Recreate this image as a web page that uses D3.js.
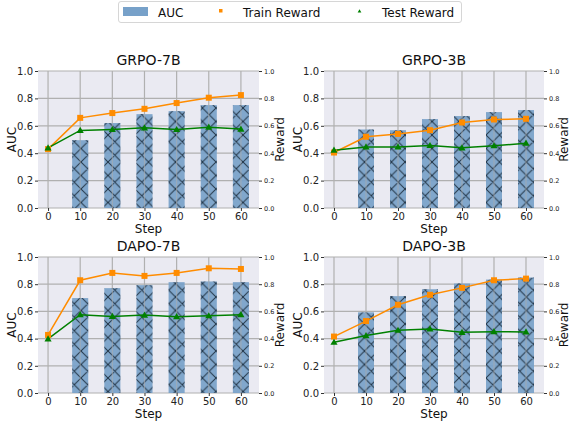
<!DOCTYPE html>
<html><head><meta charset="utf-8">
<script src="https://cdn.jsdelivr.net/npm/d3@7"></script>
<style>body{margin:0;background:#fff}svg{display:block;font-family:"DejaVu Sans",sans-serif}</style>
</head><body><svg id="c" width="571" height="423"></svg>
<script>
const steps = [0, 10, 20, 30, 40, 50, 60];
const barSteps = [10, 20, 30, 40, 50, 60];
const titles = ["GRPO-7B", "GRPO-3B", "DAPO-7B", "DAPO-3B"];
const aucGRPO7 = [0.495, 0.62, 0.685, 0.707, 0.751, 0.751];
const aucGRPO3 = [0.573, 0.568, 0.649, 0.671, 0.70, 0.715];
const aucDAPO7 = [0.698, 0.771, 0.793, 0.815, 0.82, 0.815];
const aucDAPO3 = [0.593, 0.712, 0.763, 0.805, 0.834, 0.849];
const trainGRPO7 = [0.43, 0.658, 0.693, 0.724, 0.766, 0.805, 0.824];
const trainGRPO3 = [0.405, 0.52, 0.541, 0.568, 0.624, 0.646, 0.651];
const trainDAPO7 = [0.427, 0.829, 0.883, 0.861, 0.883, 0.917, 0.912];
const trainDAPO3 = [0.415, 0.529, 0.649, 0.722, 0.773, 0.829, 0.841];
const testGRPO7 = [0.439, 0.566, 0.573, 0.585, 0.573, 0.59, 0.576];
const testGRPO3 = [0.422, 0.446, 0.446, 0.456, 0.439, 0.454, 0.473];
const testDAPO7 = [0.398, 0.576, 0.563, 0.573, 0.561, 0.568, 0.576];
const testDAPO3 = [0.373, 0.422, 0.461, 0.471, 0.446, 0.451, 0.449];
const yTicks = [0, 0.2, 0.4, 0.6, 0.8, 1.0];
const legendLabels = ["AUC", "Train Reward", "Test Reward"];

const panels = [
  {title: titles[0], auc: aucGRPO7, train: trainGRPO7, test: testGRPO7},
  {title: titles[1], auc: aucGRPO3, train: trainGRPO3, test: testGRPO3},
  {title: titles[2], auc: aucDAPO7, train: trainDAPO7, test: testDAPO7},
  {title: titles[3], auc: aucDAPO3, train: trainDAPO3, test: testDAPO3}
];
const boxes = [
  {x0: 38, x1: 259, y0: 71, y1: 208},
  {x0: 324, x1: 544, y0: 71, y1: 208},
  {x0: 38, x1: 259, y0: 257, y1: 393},
  {x0: 324, x1: 544, y0: 257, y1: 393}
];
const barColor = "#77a1c9";
const orange = "#ff8c00";
const green = "#008000";
const svg = d3.select("#c");

const defs = svg.append("defs");
const pat = defs.append("pattern").attr("id", "hx").attr("patternUnits", "userSpaceOnUse")
  .attr("width", 13.5).attr("height", 13.5);
pat.append("path").attr("d", "M0,0L13.5,13.5M13.5,0L0,13.5M-1,1L1,-1M12.5,14.5L14.5,12.5M-1,12.5L1,14.5M12.5,-1L14.5,1")
  .attr("stroke", "#10202e").attr("stroke-width", 1).attr("stroke-opacity", 0.85);

panels.forEach((p, i) => {
  const b = boxes[i];
  const x = d3.scaleLinear().domain([-3.125, 65.625]).range([b.x0, b.x1]);
  const y = d3.scaleLinear().domain([0, 1]).range([b.y1, b.y0]);
  const g = svg.append("g");
  g.append("rect").attr("x", b.x0).attr("y", b.y0).attr("width", b.x1 - b.x0).attr("height", b.y1 - b.y0).attr("fill", "#eaeaf2");
  // grid
  g.selectAll(".gx").data(steps).join("line").attr("x1", d => x(d)).attr("x2", d => x(d))
    .attr("y1", b.y0).attr("y2", b.y1).attr("stroke", "#b0b0b0").attr("stroke-width", 1.2);
  g.selectAll(".gy").data(yTicks).join("line").attr("y1", d => y(d)).attr("y2", d => y(d))
    .attr("x1", b.x0).attr("x2", b.x1).attr("stroke", "#b0b0b0").attr("stroke-width", 1.2);
  // bars
  const bw = x(5) - x(0);
  g.selectAll(".bar").data(barSteps).join("rect").attr("x", d => x(d) - bw / 2).attr("width", bw)
    .attr("y", (d, k) => y(p.auc[k])).attr("height", (d, k) => y(0) - y(p.auc[k]))
    .attr("fill", barColor).attr("fill-opacity", 0.92);
  g.selectAll(".bh").data(barSteps).join("rect").attr("x", d => x(d) - bw / 2).attr("width", bw)
    .attr("y", (d, k) => y(p.auc[k])).attr("height", (d, k) => y(0) - y(p.auc[k]))
    .attr("fill", "url(#hx)");
  // grid lines faintly over bars
  g.selectAll(".gx2").data(barSteps).join("line").attr("x1", d => x(d)).attr("x2", d => x(d))
    .attr("y1", (d, k) => y(p.auc[k])).attr("y2", b.y1).attr("stroke", "#b0b0b0").attr("stroke-width", 1.2).attr("stroke-opacity", 0.6);
  // axes
  const ax = g.append("g").attr("transform", `translate(0,${b.y1})`)
    .call(d3.axisBottom(x).tickValues(steps).tickFormat(d3.format("d")).tickSize(3).tickPadding(2));
  const ay = g.append("g").attr("transform", `translate(${b.x0},0)`)
    .call(d3.axisLeft(y).tickValues(yTicks).tickFormat(d3.format(".1f")).tickSize(3).tickPadding(2));
  const ar = g.append("g").attr("transform", `translate(${b.x1},0)`)
    .call(d3.axisRight(y).tickValues(yTicks).tickFormat(d3.format(".1f")).tickSize(3).tickPadding(2));
  [ax, ay, ar].forEach(a => { a.select(".domain").remove(); a.selectAll("line").attr("stroke", "#333"); });
  ax.selectAll("text").attr("font-size", 10).attr("fill", "#222").attr("font-family", "DejaVu Sans");
  ay.selectAll("text").attr("font-size", 10).attr("fill", "#222").attr("font-family", "DejaVu Sans");
  ar.selectAll("text").attr("font-size", 6.5).attr("fill", "#222").attr("font-family", "DejaVu Sans");
  // lines
  const line = d3.line().x((d, k) => x(steps[k])).y(d => y(d));
  g.append("path").datum(p.train).attr("d", line).attr("fill", "none").attr("stroke", orange).attr("stroke-width", 1.5);
  g.append("path").datum(p.test).attr("d", line).attr("fill", "none").attr("stroke", green).attr("stroke-width", 1.5);
  g.selectAll(".mt").data(p.train).join("rect").attr("x", (d, k) => x(steps[k]) - 3).attr("y", d => y(d) - 3)
    .attr("width", 6).attr("height", 6).attr("fill", orange);
  const tri = d3.symbol().type(d3.symbolTriangle).size(22);
  g.selectAll(".ms").data(p.test).join("path").attr("d", tri)
    .attr("transform", (d, k) => `translate(${x(steps[k])},${y(d) + 0.5})`).attr("fill", green);
  // labels
  const cx = (b.x0 + b.x1) / 2, cy = (b.y0 + b.y1) / 2;
  g.append("text").attr("x", cx).attr("y", b.y0 - 6).attr("text-anchor", "middle").attr("font-size", 14).attr("fill", "#111").text(p.title);
  g.append("text").attr("x", cx).attr("y", b.y1 + 25).attr("text-anchor", "middle").attr("font-size", 12).attr("fill", "#111").text("Step");
  g.append("text").attr("transform", `translate(${b.x0 - 22},${cy}) rotate(-90)`).attr("text-anchor", "middle").attr("font-size", 12).attr("fill", "#111").text("AUC");
  const rx = Math.min(b.x1 + 25, 567.5);
  g.append("text").attr("transform", `translate(${rx},${cy}) rotate(-90)`).attr("text-anchor", "middle").attr("font-size", 12).attr("fill", "#111").text("Reward");
});

// legend
const lg = svg.append("g");
lg.append("rect").attr("x", 118.5).attr("y", 1.5).attr("width", 343).attr("height", 21).attr("rx", 2.5)
  .attr("fill", "#fff").attr("stroke", "#d6d6d6");
lg.append("rect").attr("x", 123).attr("y", 7).attr("width", 25).attr("height", 9).attr("fill", barColor);
lg.append("text").attr("x", 158).attr("y", 16.5).attr("font-size", 12).attr("fill", "#111").text(legendLabels[0]);
lg.append("rect").attr("x", 219).attr("y", 9).attr("width", 3.5).attr("height", 3.5).attr("fill", orange);
lg.append("text").attr("x", 243).attr("y", 16.5).attr("font-size", 12).attr("fill", "#111").text(legendLabels[1]);
lg.append("path").attr("d", d3.symbol().type(d3.symbolTriangle).size(6)).attr("transform", "translate(359.5,11.5)").attr("fill", green);
lg.append("text").attr("x", 382).attr("y", 16.5).attr("font-size", 12).attr("fill", "#111").text(legendLabels[2]);
</script></body></html>
